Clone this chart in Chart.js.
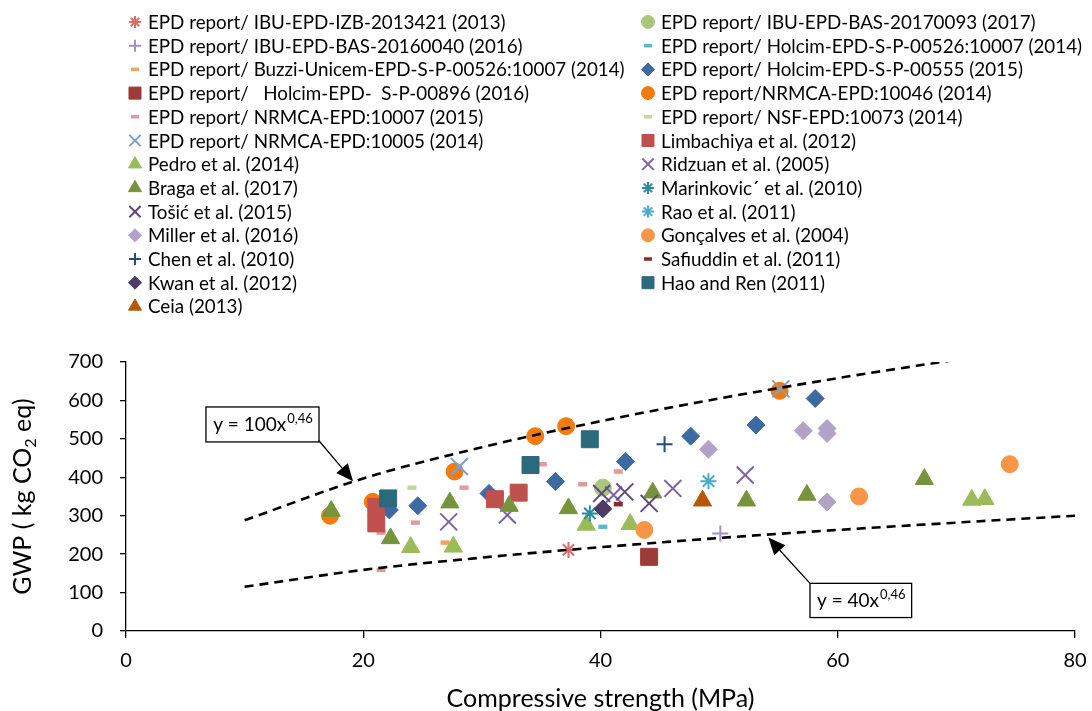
<!DOCTYPE html>
<html>
<head>
<meta charset="utf-8">
<script src="https://cdn.jsdelivr.net/npm/chart.js@4.4.1/dist/chart.umd.min.js"></script>
<style>
  html, body { margin: 0; padding: 0; background: #fff; }
</style>
</head>
<body>
<canvas id="canvas" width="1092" height="711"></canvas>
<script>
// series, in the order Excel listed them (legend is row-major, 2 columns)
const seriesNames = [
  "EPD report/ IBU-EPD-IZB-2013421 (2013)",
  "EPD report/ IBU-EPD-BAS-20170093 (2017)",
  "EPD report/ IBU-EPD-BAS-20160040 (2016)",
  "EPD report/ Holcim-EPD-S-P-00526:10007 (2014)",
  "EPD report/ Buzzi-Unicem-EPD-S-P-00526:10007 (2014)",
  "EPD report/ Holcim-EPD-S-P-00555 (2015)",
  "EPD report/   Holcim-EPD-  S-P-00896 (2016)",
  "EPD report/NRMCA-EPD:10046 (2014)",
  "EPD report/ NRMCA-EPD:10007 (2015)",
  "EPD report/ NSF-EPD:10073 (2014)",
  "EPD report/ NRMCA-EPD:10005 (2014)",
  "Limbachiya et al. (2012)",
  "Pedro et al. (2014)",
  "Ridzuan et al. (2005)",
  "Braga et al. (2017)",
  "Marinkovic\u00b4 et al. (2010)",
  "Tošić et al. (2015)",
  "Rao et al. (2011)",
  "Miller et al. (2016)",
  "Gonçalves et al. (2004)",
  "Chen et al. (2010)",
  "Safiuddin et al. (2011)",
  "Kwan et al. (2012)",
  "Hao and Ren (2011)",
  "Ceia (2013)"
];

// compressive strength (MPa)
const seriesX = [
  [37.3],
  [40.2],
  [50.1],
  [40.2],
  [26.9],
  [22.2, 24.6, 30.6, 36.2, 42.1, 47.6, 53.1, 58.1],
  [44.1],
  [17.2, 20.8, 27.7, 34.5, 37.1, 55.1],
  [21.5, 21.5, 24.4, 28.5, 35.1, 38.5, 41.5],
  [24.1],
  [28.1, 55.2],
  [21.1, 21.1, 31.1, 33.1],
  [24.0, 27.6, 38.8, 42.5, 71.3, 72.4],
  [27.2, 32.15, 41.1, 46.1, 52.2],
  [17.3, 22.3, 27.3, 32.3, 37.3, 44.4, 52.3, 57.4, 67.3],
  [39.1],
  [40.1, 42.05, 44.1],
  [49.1],
  [49.1, 57.1, 59.1, 59.1, 59.1],
  [43.7, 61.8, 74.5],
  [45.4],
  [41.5],
  [40.2],
  [22.1, 34.1, 39.1],
  [48.6]
];

// GWP (kg CO2 eq)
const seriesY = [
  [211],
  [373],
  [254],
  [271],
  [230],
  [315, 326, 358, 389, 441, 507, 536, 605],
  [193],
  [300, 336, 415, 507, 533, 625],
  [256, 159, 282, 373, 434, 382, 415],
  [373],
  [428, 630],
  [323, 280, 343, 360],
  [218, 219, 276, 278, 341, 343],
  [284, 302, 354, 371, 406],
  [312, 241, 334, 325, 319, 360, 339, 354, 395],
  [306],
  [358, 362, 332],
  [390],
  [473, 521, 527, 514, 336],
  [263, 350, 434],
  [486],
  [330],
  [318],
  [345, 432, 499],
  [339]
];

// the two bounding curves y = 100x^0.46 and y = 40x^0.46
const upperX = [10, 20, 30, 40, 50, 60, 70];
const upperY = [288, 397, 478, 546, 605, 658, 706];
const lowerX = [10, 20, 30, 40, 50, 60, 70, 80];
const lowerY = [115, 159, 191, 218, 242, 263, 282, 300];

const xTicks = [0, 20, 40, 60, 80];
const yTicks = [0, 100, 200, 300, 400, 500, 600, 700];

// marker looks
const styles = ["star", "circle", "cross", "line", "line", "rectRot", "rect", "circle", "line", "line",
  "crossRot", "rect", "triangle", "crossRot", "triangle", "star", "crossRot", "star", "rectRot", "circle",
  "cross", "line", "rectRot", "rect", "triangle"];
const colors = ["#d4716e", "#a9c77c", "#a48fc6", "#5bb8d0", "#f9a25e", "#3d6aa2", "#9e3a38", "#f47a0c", "#e29a9a", "#c4d89e",
  "#7aa0d2", "#c0504d", "#9bbb59", "#8064a2", "#77933c", "#2f8a9e", "#5f4a7f", "#4bacc6", "#b3a2c7", "#f79646",
  "#2a4a78", "#8b2a28", "#4f3c66", "#2b6a7c", "#b65708"];

const FONT = "Lato, 'Open Sans', sans-serif";

function radiusFor(style) {
  switch (style) {
    case "circle": return 8.5;
    case "rect": return 12;
    case "triangle": return 10.5;
    case "rectRot": return 9;
    case "crossRot": return 12;
    case "cross": return 8;
    case "star": return 8;
    case "line": return 4.5;
  }
  return 8;
}
function legendRadiusFor(style) {
  switch (style) {
    case "circle": return 6.5;
    case "rect": return 8.5;
    case "triangle": return 7.5;
    case "rectRot": return 6.5;
    case "crossRot": return 8;
    case "cross": return 6;
    case "star": return 6;
    case "line": return 4;
  }
  return 6;
}
function lineWidthFor(style, legend) {
  if (style === "line") return legend ? 3.5 : 4.5;
  if (style === "crossRot" || style === "cross" || style === "star") return 2;
  return 1;
}

const datasets = seriesNames.map(function (name, i) {
  const st = styles[i];
  return {
    label: name,
    data: seriesX[i].map(function (x, k) { return { x: x, y: seriesY[i][k] }; }),
    pointStyle: st,
    pointRadius: radiusFor(st),
    pointBorderWidth: lineWidthFor(st, false),
    backgroundColor: colors[i],
    borderColor: colors[i],
    order: 25 - i
  };
});

datasets.push({
  type: "line",
  label: "upper",
  data: upperX.map(function (x, k) { return { x: x, y: upperY[k] }; }),
  borderColor: "#000",
  borderWidth: 2.6,
  borderDash: [9, 6],
  pointRadius: 0,
  fill: false,
  cubicInterpolationMode: "monotone",
  order: -1
});
datasets.push({
  type: "line",
  label: "lower",
  data: lowerX.map(function (x, k) { return { x: x, y: lowerY[k] }; }),
  borderColor: "#000",
  borderWidth: 2.6,
  borderDash: [9, 6],
  pointRadius: 0,
  fill: false,
  cubicInterpolationMode: "monotone",
  order: -1
});

// callout boxes, placed in data units
const callouts = [
  { base: "y = 100x", sup: "0,46", x0: 6.74, x1: 16.27, yTop: 583, yBot: 492, fromX: 16.27, fromY: 495, toX: 19.14, toY: 390 },
  { base: "y = 40x", sup: "0,46", x0: 57.66, x1: 66.23, yTop: 124, yBot: 35, fromX: 57.66, fromY: 124, toX: 54.15, toY: 243 }
];

function arrow(ctx, x1, y1, x2, y2) {
  const ang = Math.atan2(y2 - y1, x2 - x1);
  const head = 17, half = 7.5;
  const bx = x2 - Math.cos(ang) * head, by = y2 - Math.sin(ang) * head;
  ctx.beginPath();
  ctx.moveTo(x1, y1);
  ctx.lineTo(bx, by);
  ctx.stroke();
  ctx.beginPath();
  ctx.moveTo(x2, y2);
  ctx.lineTo(bx + Math.sin(ang) * half, by - Math.cos(ang) * half);
  ctx.lineTo(bx - Math.sin(ang) * half, by + Math.cos(ang) * half);
  ctx.closePath();
  ctx.fill();
}

const extras = {
  id: "extras",
  afterDatasetsDraw(chart) {
    const ctx = chart.ctx;
    const xs = chart.scales.x, ys = chart.scales.y;
    ctx.save();
    ctx.strokeStyle = "#000";
    ctx.fillStyle = "#000";
    ctx.lineWidth = 1.3;
    callouts.forEach(function (c) {
      const l = xs.getPixelForValue(c.x0), r = xs.getPixelForValue(c.x1);
      const t = ys.getPixelForValue(c.yTop), b = ys.getPixelForValue(c.yBot);
      ctx.fillStyle = "#000";
      arrow(ctx, xs.getPixelForValue(c.fromX), ys.getPixelForValue(c.fromY),
        xs.getPixelForValue(c.toX), ys.getPixelForValue(c.toY));
      ctx.fillStyle = "#fff";
      ctx.fillRect(l, t, r - l, b - t);
      ctx.strokeRect(l, t, r - l, b - t);
      ctx.fillStyle = "#000";
      ctx.textBaseline = "alphabetic";
      ctx.textAlign = "left";
      ctx.font = "19px " + FONT;
      const w1 = ctx.measureText(c.base).width;
      ctx.font = "13px " + FONT;
      const w2 = ctx.measureText(c.sup).width;
      const sx = (l + r) / 2 - (w1 + w2) / 2;
      const base = (t + b) / 2 + 7;
      ctx.font = "19px " + FONT;
      ctx.fillText(c.base, sx, base);
      ctx.font = "13px " + FONT;
      ctx.fillText(c.sup, sx + w1 + 1, base - 8);
    });
    ctx.restore();
  },
  afterDraw(chart) {
    const ctx = chart.ctx;
    const area = chart.chartArea;
    ctx.save();
    // legend, two columns
    chart.data.datasets.forEach(function (ds, i) {
      if (i >= seriesNames.length) return;
      const col = i % 2, row = Math.floor(i / 2);
      const mx = col ? 648 : 135;
      const tx = col ? 661 : 148;
      const y = 22 + row * 23.7;
      const st = styles[i];
      ctx.fillStyle = colors[i];
      ctx.strokeStyle = colors[i];
      ctx.lineWidth = lineWidthFor(st, true);
      Chart.helpers.drawPoint(ctx, { pointStyle: st, radius: legendRadiusFor(st), rotation: 0, borderWidth: lineWidthFor(st, true) }, mx, y);
      ctx.fillStyle = "#000";
      ctx.font = "18.8px " + FONT;
      ctx.textAlign = "left";
      ctx.textBaseline = "middle";
      ctx.fillText(ds.label, tx, y + 1);
    });
    // x axis title
    ctx.fillStyle = "#000";
    ctx.font = "25px " + FONT;
    ctx.textAlign = "center";
    ctx.textBaseline = "middle";
    ctx.fillText("Compressive strength (MPa)", (area.left + area.right) / 2, 699);
    // y axis title with subscript
    ctx.translate(22, (area.top + area.bottom) / 2);
    ctx.rotate(-Math.PI / 2);
    const a = "GWP ( kg CO", s = "2", z = " eq)";
    ctx.font = "25px " + FONT;
    const wa = ctx.measureText(a).width, wz = ctx.measureText(z).width;
    ctx.font = "16px " + FONT;
    const ws = ctx.measureText(s).width;
    let x0 = -(wa + ws + wz) / 2;
    ctx.textAlign = "left";
    ctx.textBaseline = "alphabetic";
    ctx.font = "25px " + FONT;
    ctx.fillText(a, x0, 9);
    ctx.font = "16px " + FONT;
    ctx.fillText(s, x0 + wa, 14);
    ctx.font = "25px " + FONT;
    ctx.fillText(z, x0 + wa + ws, 9);
    ctx.restore();
  }
};

const ctx = document.getElementById("canvas").getContext("2d");
const myChart = new Chart(ctx, {
  type: "scatter",
  data: { datasets: datasets },
  options: {
    responsive: false,
    animation: false,
    events: [],
    layout: { padding: { top: 362, right: 17, left: 0, bottom: 0 } },
    plugins: {
      legend: { display: false },
      tooltip: { enabled: false }
    },
    scales: {
      x: {
        type: "linear",
        min: 0,
        max: 80,
        afterBuildTicks: function (scale) { scale.ticks = xTicks.map(function (v) { return { value: v }; }); },
        afterFit: function (scale) {
          scale.height = 80;
          scale.paddingLeft = 0;
          scale.paddingRight = 0;
        },
        border: { display: true, color: "#000", width: 1.3 },
        grid: { display: true, drawOnChartArea: false, drawTicks: true, tickLength: 7, color: "#000", lineWidth: 1.3 },
        ticks: { color: "#000", font: { family: FONT, size: 20 }, padding: 11, maxRotation: 0 }
      },
      y: {
        type: "linear",
        min: 0,
        max: 700,
        afterBuildTicks: function (scale) { scale.ticks = yTicks.map(function (v) { return { value: v }; }); },
        afterFit: function (scale) { scale.width = 126; },
        border: { display: true, color: "#000", width: 1.3 },
        grid: { display: true, drawOnChartArea: false, drawTicks: true, tickLength: 6, color: "#000", lineWidth: 1.3 },
        ticks: { color: "#000", font: { family: FONT, size: 20 }, padding: 17 }
      }
    }
  },
  plugins: [extras]
});
</script>
</body>
</html>
